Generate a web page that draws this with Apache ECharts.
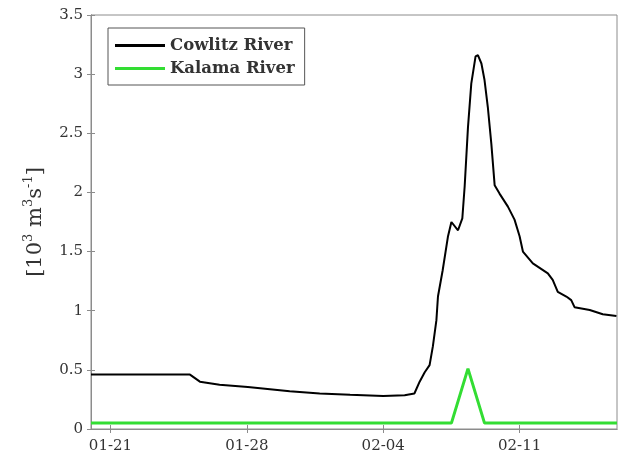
<!DOCTYPE html>
<html><head><meta charset="utf-8">
<script src="https://cdn.jsdelivr.net/npm/echarts@6/dist/echarts.min.js"></script>
<style>html,body{margin:0;padding:0;background:#fff}#c{width:621px;height:461px}</style>
</head><body><div id="c"></div>
<script>
// x = days since 01-20 00:00
const tickDays = [1, 8, 15, 22];
const tickLabels = ['01-21', '01-28', '02-04', '02-11'];
const cowlitzDays = [0,5.08,5.59,6.6,8.05,10.2,11.74,13.3,15.0,16.1,16.6,16.87,17.13,17.38,17.55,17.73,17.81,18.05,18.32,18.5,18.84,19.06,19.18,19.35,19.52,19.74,19.86,20.04,20.2,20.37,20.55,20.72,20.97,21.4,21.74,22.0,22.17,22.68,23.45,23.7,23.96,24.4,24.65,24.82,25.6,26.27,26.97];
const cowlitzFlow = [0.46,0.46,0.40,0.375,0.355,0.32,0.30,0.29,0.28,0.285,0.30,0.40,0.48,0.54,0.70,0.92,1.12,1.34,1.625,1.75,1.68,1.78,2.05,2.55,2.92,3.15,3.16,3.09,2.95,2.72,2.41,2.06,1.99,1.88,1.77,1.63,1.50,1.40,1.316,1.26,1.16,1.12,1.09,1.03,1.006,0.97,0.955];
const kalamaDays = [0, 18.5, 19.35, 20.2, 27];
const kalamaFlow = [0.05, 0.05, 0.51, 0.05, 0.05];

const zip = (a, b) => a.map((v, i) => [v, b[i]]);
const axisGray = '#8c8c8c';
const txt = '#333';
const font = 'DejaVu Serif';

const chart = echarts.init(document.getElementById('c'));
chart.setOption({
  animation: false,
  grid: { left: 91, right: 4, top: 15, bottom: 32, show: true, borderColor: axisGray, borderWidth: 1 },
  legend: {
    left: 108, top: 28, orient: 'vertical',
    borderColor: '#555', borderWidth: 1, padding: [9, 10, 8, 7],
    backgroundColor: '#fff',
    itemWidth: 50, itemHeight: 3, itemGap: 6, icon: 'rect',
    textStyle: { fontFamily: font, fontSize: 16.5, color: txt, fontWeight: 'bold' },
    data: ['Cowlitz River', 'Kalama River']
  },
  xAxis: [{
    type: 'value', min: 0, max: 27,
    axisLine: { show: true, lineStyle: { color: axisGray } },
    axisTick: { show: true, inside: true, length: 4, lineStyle: { color: axisGray }, customValues: tickDays },
    axisLabel: { customValues: tickDays, margin: 10, fontFamily: font, fontSize: 15, color: txt,
      formatter: v => tickLabels[tickDays.indexOf(Math.round(v))] || '' },
    splitLine: { show: false }
  }, {
    type: 'value', min: 0, max: 27, position: 'top',
    axisLine: { show: true, lineStyle: { color: axisGray } },
    axisTick: { show: true, inside: true, length: 4, lineStyle: { color: axisGray }, customValues: tickDays },
    axisLabel: { show: false }, splitLine: { show: false }
  }],
  yAxis: [{
    type: 'value', min: 0, max: 3.5, interval: 0.5,
    axisLine: { show: true, lineStyle: { color: axisGray } },
    axisTick: { show: true, inside: true, length: 4, lineStyle: { color: axisGray } },
    axisLabel: { margin: 8, fontFamily: font, fontSize: 15, color: txt },
    splitLine: { show: false },
    name: '[10{sup|3} m{sup|3}s{sup|-1}]',
    nameLocation: 'middle', nameRotate: 90, nameGap: 35,
    nameTextStyle: { fontFamily: font, fontSize: 21, color: txt, lineHeight: 26,
      rich: { sup: { fontFamily: font, fontSize: 13, color: txt, verticalAlign: 'top', lineHeight: 26, padding: [0,0,9,0] } } }
  }, {
    type: 'value', min: 0, max: 3.5, interval: 0.5, position: 'right',
    axisLine: { show: true, lineStyle: { color: axisGray } },
    axisTick: { show: true, inside: true, length: 4, lineStyle: { color: axisGray } },
    axisLabel: { show: false }, splitLine: { show: false }
  }],
  series: [{
    name: 'Cowlitz River', type: 'line', data: zip(cowlitzDays, cowlitzFlow),
    showSymbol: false, symbol: 'none', smooth: false,
    lineStyle: { color: '#000', width: 2 }, itemStyle: { color: '#000' }
  }, {
    name: 'Kalama River', type: 'line', data: zip(kalamaDays, kalamaFlow),
    showSymbol: false, symbol: 'none',
    lineStyle: { color: '#33dd33', width: 3 }, itemStyle: { color: '#33dd33' }
  }]
});
</script></body></html>
